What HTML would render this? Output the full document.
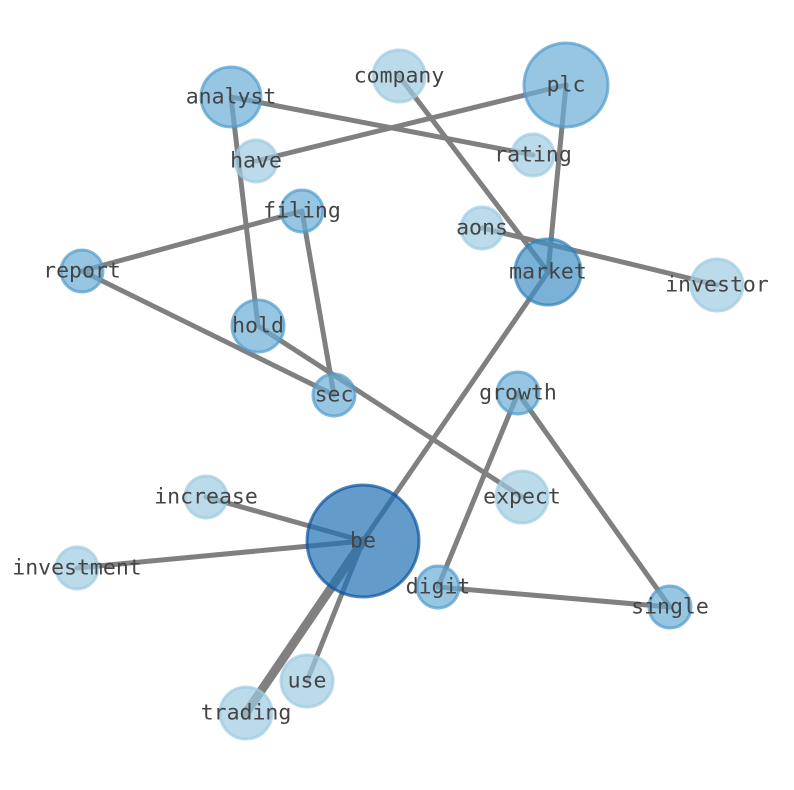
<!DOCTYPE html>
<html><head><meta charset="utf-8"><style>
html,body{margin:0;padding:0;background:#fff;}
svg{display:block;}
text{font-family:"DejaVu Sans Mono","Liberation Mono",monospace;font-size:21.5px;fill:#444;text-anchor:middle;dominant-baseline:central;}
</style></head><body>
<svg width="794" height="790" viewBox="0 0 794 790">
<g stroke="#808080" stroke-width="5" stroke-linecap="round">
<line x1="399" y1="76" x2="548" y2="272"/>
<line x1="566" y1="85" x2="548" y2="272"/>
<line x1="566" y1="85" x2="256" y2="161"/>
<line x1="231" y1="97" x2="533" y2="155"/>
<line x1="231" y1="97" x2="258" y2="326"/>
<line x1="302" y1="211" x2="82" y2="271"/>
<line x1="302" y1="211" x2="334" y2="395"/>
<line x1="482" y1="228" x2="717" y2="285"/>
<line x1="82" y1="271" x2="334" y2="395"/>
<line x1="548" y1="272" x2="363" y2="541"/>
<line x1="258" y1="326" x2="522" y2="497"/>
<line x1="518" y1="393" x2="438" y2="587"/>
<line x1="518" y1="393" x2="670" y2="607"/>
<line x1="438" y1="587" x2="670" y2="607"/>
<line x1="206" y1="497" x2="363" y2="541"/>
<line x1="77" y1="568" x2="363" y2="541"/>
<line x1="363" y1="541" x2="307" y2="681"/>
<line x1="363" y1="541" x2="246" y2="713" stroke-width="9"/>
</g>
<g stroke-width="3" fill-opacity="0.7" stroke-opacity="0.7">
<circle cx="399" cy="76" r="26" fill="#9ecae1" stroke="#9ecae1"/>
<circle cx="566" cy="85" r="42" fill="#6baed6" stroke="#4f9bcc"/>
<circle cx="231" cy="97" r="30" fill="#6baed6" stroke="#4f9bcc"/>
<circle cx="256" cy="161" r="21" fill="#9ecae1" stroke="#9ecae1"/>
<circle cx="533" cy="155" r="21" fill="#9ecae1" stroke="#9ecae1"/>
<circle cx="302" cy="211" r="21" fill="#6baed6" stroke="#4f9bcc"/>
<circle cx="482" cy="228" r="21" fill="#9ecae1" stroke="#9ecae1"/>
<circle cx="82" cy="271" r="21" fill="#6baed6" stroke="#4f9bcc"/>
<circle cx="548" cy="272" r="33" fill="#4292c6" stroke="#2f80b8"/>
<circle cx="717" cy="285" r="26" fill="#9ecae1" stroke="#9ecae1"/>
<circle cx="258" cy="326" r="26" fill="#6baed6" stroke="#4f9bcc"/>
<circle cx="334" cy="395" r="21" fill="#6baed6" stroke="#4f9bcc"/>
<circle cx="518" cy="393" r="21" fill="#6baed6" stroke="#4f9bcc"/>
<circle cx="522" cy="497" r="26" fill="#9ecae1" stroke="#9ecae1"/>
<circle cx="206" cy="497" r="21" fill="#9ecae1" stroke="#9ecae1"/>
<circle cx="363" cy="541" r="56" fill="#2171b5" stroke="#08519c"/>
<circle cx="77" cy="568" r="21" fill="#9ecae1" stroke="#9ecae1"/>
<circle cx="438" cy="587" r="21" fill="#6baed6" stroke="#4f9bcc"/>
<circle cx="670" cy="607" r="21" fill="#6baed6" stroke="#4f9bcc"/>
<circle cx="307" cy="681" r="26" fill="#9ecae1" stroke="#9ecae1"/>
<circle cx="246" cy="713" r="26" fill="#9ecae1" stroke="#9ecae1"/>
</g>
<g>
<text x="399" y="76">company</text>
<text x="566" y="85">plc</text>
<text x="231" y="97">analyst</text>
<text x="256" y="161">have</text>
<text x="533" y="155">rating</text>
<text x="302" y="211">filing</text>
<text x="482" y="228">aons</text>
<text x="82" y="271">report</text>
<text x="548" y="272">market</text>
<text x="717" y="285">investor</text>
<text x="258" y="326">hold</text>
<text x="334" y="395">sec</text>
<text x="518" y="393">growth</text>
<text x="522" y="497">expect</text>
<text x="206" y="497">increase</text>
<text x="363" y="541">be</text>
<text x="77" y="568">investment</text>
<text x="438" y="587">digit</text>
<text x="670" y="607">single</text>
<text x="307" y="681">use</text>
<text x="246" y="713">trading</text>
</g>
</svg>
</body></html>
